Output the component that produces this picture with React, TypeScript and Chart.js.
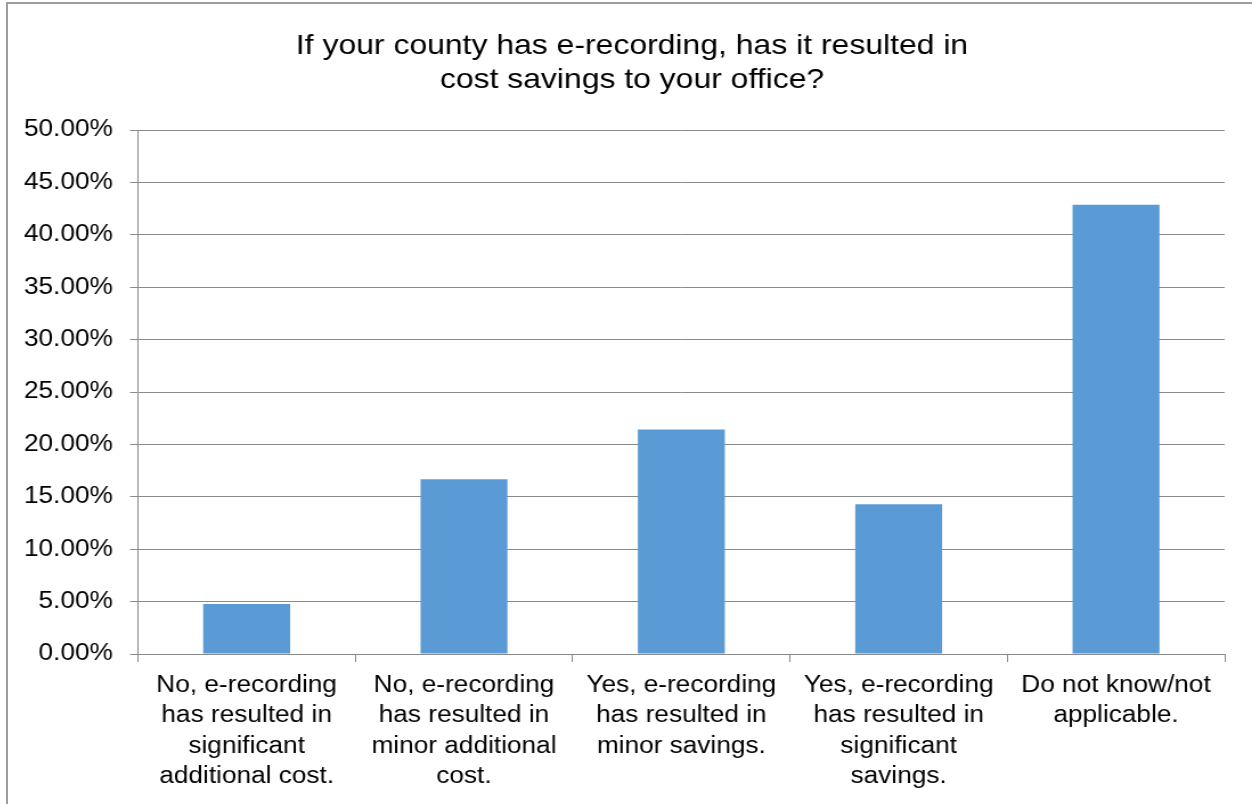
import React, { useEffect, useRef } from 'react';
import { Chart, registerables } from 'chart.js';

Chart.register(...registerables);

// ---- data ----
const TITLE_LINES = [
  'If your county has e-recording, has it resulted in',
  'cost savings to your office?',
];
const CATEGORIES = [
  ['No, e-recording', 'has resulted in', 'significant', 'additional cost.'],
  ['No, e-recording', 'has resulted in', 'minor additional', 'cost.'],
  ['Yes, e-recording', 'has resulted in', 'minor savings.'],
  ['Yes, e-recording', 'has resulted in', 'significant', 'savings.'],
  ['Do not know/not', 'applicable.'],
];
const VALUES = [4.76, 16.67, 21.43, 14.29, 42.86];
const Y_MIN = 0;
const Y_MAX = 50;
const Y_STEP = 5;

// ---- styling ----
const FONT = "'Liberation Sans', Arial, sans-serif";
const BAR_COLOR = '#5B9BD5';
const GRID_COLOR = '#8a8a8a';
const PAGE_W = 1252;
const PAGE_H = 804;
const CANVAS_LEFT = 12;
const STRETCH = 1.14;
const CANVAS_PAGE_W = PAGE_W - CANVAS_LEFT;
const CANVAS_W = Math.round(CANVAS_PAGE_W / STRETCH);
const toInt = (pageX: number) => (pageX - CANVAS_LEFT) / STRETCH;
const AREA_LEFT = toInt(138);
const AREA_RIGHT = toInt(1225);

export default function App() {
  const canvasRef = useRef<HTMLCanvasElement | null>(null);

  useEffect(() => {
    const canvas = canvasRef.current;
    if (!canvas) return;
    const chart = new Chart(canvas, {
      type: 'bar',
      data: {
        labels: CATEGORIES,
        datasets: [
          {
            data: VALUES,
            backgroundColor: BAR_COLOR,
            borderWidth: 0,
            barPercentage: 0.4,
            categoryPercentage: 1,
            yAxisID: 'y',
          },
        ],
      },
      options: {
        responsive: false,
        animation: false,
        devicePixelRatio: 1,
        layout: { padding: 0 },
        plugins: {
          legend: { display: false },
          tooltip: { enabled: false },
          title: {
            display: true,
            text: TITLE_LINES,
            color: '#000',
            font: { family: FONT, size: 28, weight: 'normal', lineHeight: 34 / 28 },
            padding: { top: 29, bottom: 33 },
          },
        },
        scales: {
          x: {
            grid: {
              display: true,
              drawOnChartArea: false,
              drawTicks: true,
              tickLength: 8,
              color: GRID_COLOR,
              offset: true,
            },
            border: { display: true, color: GRID_COLOR },
            ticks: {
              color: '#000',
              font: { family: FONT, size: 23, lineHeight: 30.5 / 23 },
              padding: 8,
              maxRotation: 0,
              minRotation: 0,
              autoSkip: false,
            },
            afterFit: (scale: any) => {
              scale.height = 150;
            },
          },
          y: {
            position: 'left',
            min: Y_MIN,
            max: Y_MAX,
            ticks: {
              stepSize: Y_STEP,
              color: '#000',
              font: { family: FONT, size: 23 },
              padding: 15,
              callback: (v: any) => Number(v).toFixed(2) + '%',
            },
            grid: { color: GRID_COLOR, tickLength: 7, drawTicks: true },
            border: { display: true, color: GRID_COLOR },
            afterFit: (scale: any) => {
              scale.width = AREA_LEFT;
            },
          },
          yRight: {
            position: 'right',
            display: true,
            grid: { display: false, drawTicks: false },
            border: { display: false },
            ticks: { display: false },
            afterFit: (scale: any) => {
              scale.width = CANVAS_W - AREA_RIGHT;
            },
          },
        },
      },
    } as any);
    return () => chart.destroy();
  }, []);

  return (
    <div>
      <div
        style={{
          position: 'fixed',
          left: 6,
          top: 2,
          width: PAGE_W - 6,
          height: PAGE_H - 2,
          boxSizing: 'border-box',
          borderLeft: '2px solid #9e9e9e',
          borderTop: '2px solid #9e9e9e',
          background: '#fff',
        }}
      />
      <canvas
        ref={canvasRef}
        width={CANVAS_W}
        height={PAGE_H}
        style={{
          position: 'fixed',
          left: CANVAS_LEFT,
          top: 0,
          width: CANVAS_PAGE_W + 'px',
          height: PAGE_H + 'px',
        }}
      />
    </div>
  );
}
